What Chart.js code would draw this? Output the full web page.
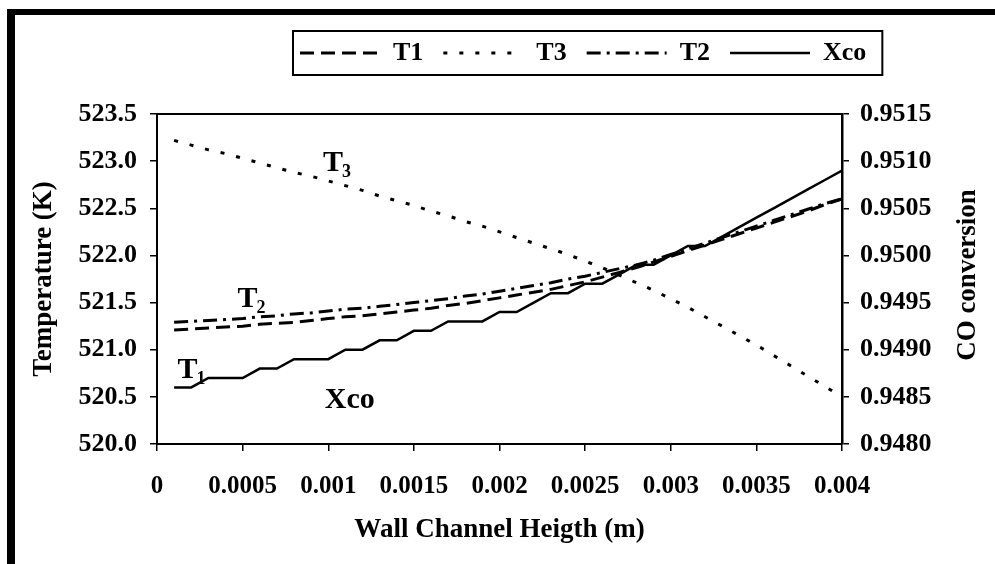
<!DOCTYPE html>
<html>
<head>
<meta charset="utf-8">
<script src="https://cdn.jsdelivr.net/npm/chart.js@4.4.1/dist/chart.umd.min.js"></script>
<style>
html,body{margin:0;padding:0;background:#fff;}
#wrap{position:relative;width:995px;height:564px;overflow:hidden;background:#fff;}
#frame{position:absolute;left:7px;top:9px;right:-20px;bottom:-20px;border-top:6px solid #000;border-left:8px solid #000;pointer-events:none;}
canvas{display:block;}
</style>
</head>
<body>
<div id="wrap"><canvas id="c" width="995" height="564"></canvas><div id="frame"></div></div>
<script>
// ---- data ----
const xValues = [0.0001,0.0002,0.0003,0.0004,0.0005,0.0006,0.0007,0.0008,0.0009,0.0010,
                 0.0011,0.0012,0.0013,0.0014,0.0015,0.0016,0.0017,0.0018,0.0019,0.0020,
                 0.0021,0.0022,0.0023,0.0024,0.0025,0.0026,0.0027,0.0028,0.0029,0.0030,
                 0.0031,0.0032,0.0033,0.0034,0.0035,0.0036,0.0037,0.0038,0.0039,0.0040];
const t1 = [521.21,521.22,521.23,521.24,521.25,521.27,521.28,521.29,521.31,521.33,
            521.35,521.36,521.38,521.40,521.42,521.44,521.47,521.49,521.52,521.55,
            521.58,521.61,521.64,521.68,521.72,521.77,521.82,521.87,521.93,521.99,
            522.05,522.11,522.17,522.23,522.29,522.35,522.41,522.47,522.54,522.60];
const t3 = [523.22,523.17,523.12,523.08,523.03,522.98,522.93,522.88,522.84,522.79,
            522.74,522.69,522.63,522.58,522.53,522.47,522.42,522.36,522.31,522.25,
            522.19,522.13,522.07,522.01,521.94,521.87,521.79,521.71,521.63,521.54,
            521.45,521.35,521.25,521.15,521.05,520.94,520.83,520.72,520.61,520.50];
const t2 = [521.29,521.30,521.31,521.32,521.33,521.35,521.36,521.38,521.39,521.41,
            521.43,521.44,521.46,521.48,521.50,521.52,521.54,521.57,521.59,521.62,
            521.65,521.68,521.71,521.75,521.78,521.82,521.86,521.90,521.95,522.01,
            522.07,522.13,522.19,522.25,522.31,522.37,522.43,522.49,522.55,522.60];
const xco = [0.9486,0.9486,0.9487,0.9487,0.9487,0.9488,0.9488,0.9489,0.9489,0.9489,
             0.9490,0.9490,0.9491,0.9491,0.9492,0.9492,0.9493,0.9493,0.9493,0.9494,
             0.9494,0.9495,0.9496,0.9496,0.9497,0.9497,0.9498,0.9499,0.9499,0.9500,
             0.9501,0.9501,0.9502,0.9503,0.9504,0.9505,0.9506,0.9507,0.9508,0.9509];
const seriesNames = ['T1','T3','T2','Xco'];
const xTickLabels = ['0','0.0005','0.001','0.0015','0.002','0.0025','0.003','0.0035','0.004'];
const leftTickLabels = ['520.0','520.5','521.0','521.5','522.0','522.5','523.0','523.5'];
const rightTickLabels = ['0.9480','0.9485','0.9490','0.9495','0.9500','0.9505','0.9510','0.9515'];
const xTitle = 'Wall Channel Heigth (m)';
const leftTitle = 'Temperature (K)';
const rightTitle = 'CO conversion';
// curve labels inside the plot: [main, subscript, x value, left-axis value]
const curveLabels = [
  ['T','3',0.00097,522.90],
  ['T','2',0.00047,521.45],
  ['T','1',0.00012,520.70],
  ['Xco','',0.00098,520.38]
];

const FONT = "'Liberation Serif', 'Times New Roman', serif";
const pts = arr => arr.map((v,i)=>({x:xValues[i], y:v}));

const extras = {
  id:'extras',
  afterLayout(chart){
    const L = chart.legend;
    if(!L || !L.lineWidths) return;
    const pad = L.options.labels.padding;
    const start = (L.left + pad + L.right - L.lineWidths[0]) / 2;
    const dx = 300 - start;
    L.left += dx; L.right += dx;
  },
  afterDraw(chart){
    const ctx = chart.ctx;
    const ca = chart.chartArea;
    // legend frame
    const hb = chart.legend.legendHitBoxes;
    if(hb && hb.length){
      const first = hb[0], last = hb[hb.length-1];
      ctx.save();
      ctx.strokeStyle='#000'; ctx.lineWidth=2; ctx.setLineDash([]);
      ctx.strokeRect(first.left-7, first.top-9, (last.left+last.width+16)-(first.left-7), first.height+18);
      ctx.restore();
    }
    // right axis title (reads bottom to top)
    ctx.save();
    ctx.fillStyle='#000';
    ctx.font = "bold 27px " + FONT;
    ctx.textAlign='center'; ctx.textBaseline='middle';
    ctx.translate(chart.width-27, (ca.top+ca.bottom)/2 - 4);
    ctx.rotate(-Math.PI/2);
    ctx.fillText(rightTitle,0,0);
    ctx.restore();
    // curve labels
    const xs = chart.scales.x, ys = chart.scales.y;
    ctx.save();
    ctx.fillStyle='#000';
    ctx.textAlign='left'; ctx.textBaseline='alphabetic';
    curveLabels.forEach(([m,s,xv,yv])=>{
      const px = xs.getPixelForValue(xv), py = ys.getPixelForValue(yv);
      ctx.font = "bold 30px " + FONT;
      ctx.fillText(m, px, py);
      if(s){
        const w = ctx.measureText(m).width;
        ctx.font = "bold 18px " + FONT;
        ctx.fillText(s, px + w - 1, py + 6);
      }
    });
    ctx.restore();
  }
};

new Chart(document.getElementById('c'), {
  type:'line',
  data:{
    datasets:[
      {label:seriesNames[0], data:pts(t1), yAxisID:'y', borderColor:'#000', borderWidth:3, borderDash:[14,7], pointRadius:0, tension:0, fill:false},
      {label:seriesNames[1], data:pts(t3), yAxisID:'y', borderColor:'#000', borderWidth:3, borderDash:[4,12], pointRadius:0, tension:0, fill:false},
      {label:seriesNames[2], data:pts(t2), yAxisID:'y', borderColor:'#000', borderWidth:3, borderDash:[14,6,3,6], pointRadius:0, tension:0, fill:false},
      {label:seriesNames[3], data:pts(xco), yAxisID:'y2', borderColor:'#000', borderWidth:2.5, pointRadius:0, tension:0, fill:false}
    ]
  },
  options:{
    responsive:false,
    animation:false,
    devicePixelRatio:1,
    layout:{padding:{top:20,left:0,right:0,bottom:0}},
    plugins:{
      legend:{
        display:true, position:'top', align:'center',
        labels:{
          usePointStyle:true, pointStyle:'line', pointStyleWidth:80, boxWidth:80,
          padding:20, color:'#000',
          font:{family:FONT, size:26, weight:'bold'},
          generateLabels:(chart)=>{
            const items = Chart.defaults.plugins.legend.labels.generateLabels(chart);
            items.forEach(it=>{
              const ds = chart.data.datasets[it.datasetIndex];
              it.lineDash = ds.borderDash || [];
              it.lineWidth = ds.borderWidth;
              it.strokeStyle = '#000';
              it.fillStyle = '#000';
              it.pointStyle = 'line';
              it.fontColor = '#000';
            });
            return items;
          }
        }
      },
      title:{display:true, text:'', position:'top', weight:500, padding:0, font:{size:38, lineHeight:1}},
      tooltip:{enabled:false}
    },
    scales:{
      x:{
        type:'linear', position:'bottom', min:0, max:0.004,
        afterFit:s=>{s.height=120;},
        ticks:{stepSize:0.0005, autoSkip:false, maxRotation:0, minRotation:0, padding:21, color:'#000',
               font:{family:FONT, size:25, weight:'bold'},
               callback:(v,i)=>xTickLabels[i]},
        grid:{display:true, drawOnChartArea:false, drawTicks:true, tickLength:7, color:'#000', lineWidth:1.5},
        border:{display:true, color:'#000', width:2},
        title:{display:true, text:xTitle, color:'#000', font:{family:FONT, size:27, weight:'bold'}, padding:{top:0,bottom:18}}
      },
      xTop:{
        type:'linear', position:'top', min:0, max:0.004,
        afterFit:s=>{s.height=0;},
        ticks:{display:false}, grid:{display:false},
        border:{display:true, color:'#000', width:2}
      },
      y:{
        type:'linear', position:'left', min:520, max:523.5,
        afterFit:s=>{s.width=157;},
        ticks:{stepSize:0.5, autoSkip:false, padding:13, color:'#000',
               font:{family:FONT, size:26, weight:'bold'},
               callback:(v,i)=>leftTickLabels[i]},
        grid:{display:true, drawOnChartArea:false, drawTicks:true, tickLength:7, color:'#000', lineWidth:1.5},
        border:{display:true, color:'#000', width:2},
        title:{display:true, text:leftTitle, color:'#000', font:{family:FONT, size:27, weight:'bold'}, padding:{top:28,bottom:0}}
      },
      y2:{
        type:'linear', position:'right', min:0.948, max:0.9515,
        afterFit:s=>{s.width=153;},
        ticks:{stepSize:0.0005, autoSkip:false, padding:11, color:'#000',
               font:{family:FONT, size:26, weight:'bold'},
               callback:(v,i)=>rightTickLabels[i]},
        grid:{display:true, drawOnChartArea:false, drawTicks:true, tickLength:7, color:'#000', lineWidth:1.5},
        border:{display:true, color:'#000', width:2.5}
      }
    }
  },
  plugins:[extras]
});
</script>
</body>
</html>
